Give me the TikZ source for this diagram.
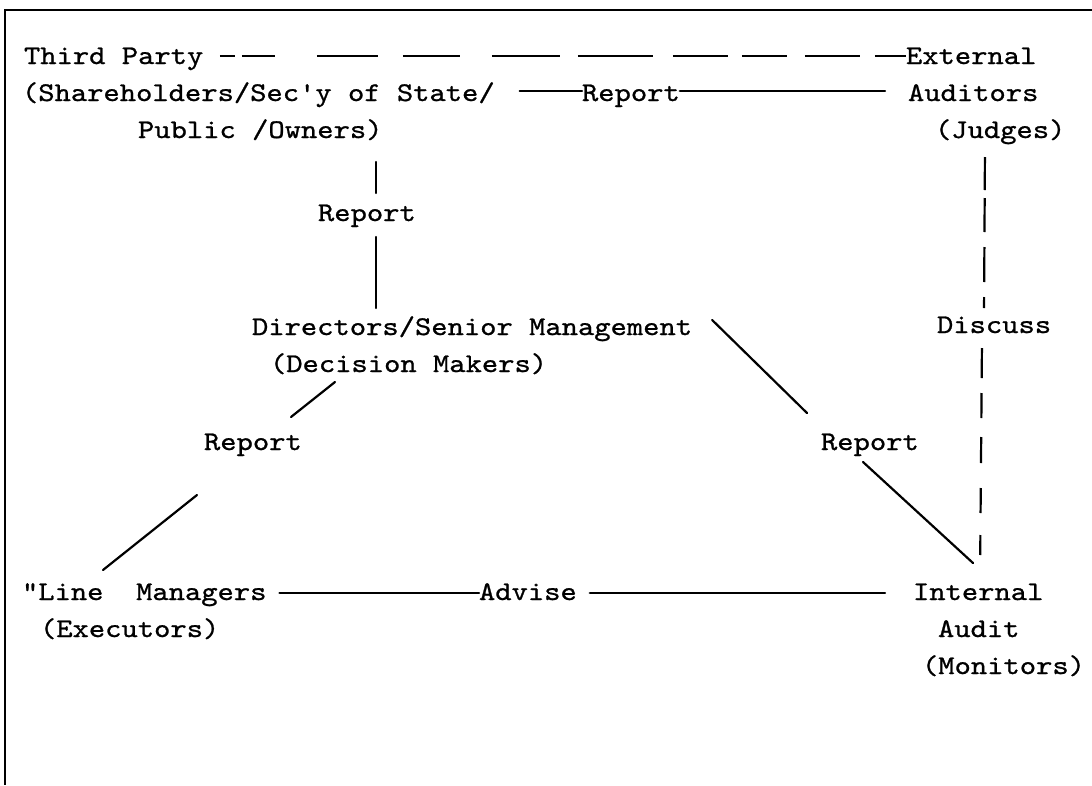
\documentclass[tikz,border=0pt]{standalone}
\usepackage{fontspec}
\usetikzlibrary{calc}
\newfontfamily\typewriter[FakeBold=0.9, FakeStretch=1.15]{lmmono10-regular.otf}

\tikzset{
  lbl/.style={anchor=base west, inner sep=0pt, outer sep=0pt,
    text height=18pt, text depth=6pt,
    font=\typewriter\fontsize{27}{37}\selectfont},
  link/.style={line width=2.2pt, line cap=round},
  frame/.style={line width=2pt},
}

\begin{document}
\begin{tikzpicture}[x=1pt, y=-1pt]
  \useasboundingbox (0,0) rectangle (1092,785);

  % page frame (top and left rules)
  \draw[frame] (1092,10) -- (5,10) -- (5,785);

  % top block
  \node[lbl] (tp)   at (24,64)   {Third Party};
  \node[lbl] (sh)   at (22,101)  {(Shareholders/Sec'y of State/};
  \node[lbl] (pub)  at (138,138) {Public /Owners)};
  \node[lbl] (ext)  at (906,64)  {External};
  \node[lbl] (aud)  at (908,101) {Auditors};
  \node[lbl] (jud)  at (935,138) {(Judges)};
  \node[lbl] (rep1) at (582,101) {Report};

  % middle block
  \node[lbl] (rep2) at (318,221) {Report};
  \node[lbl] (dir)  at (252,335) {Directors/Senior Management};
  \node[lbl] (dec)  at (270,372) {(Decision Makers)};
  \node[lbl] (dis)  at (937,333) {Discuss};
  \node[lbl] (rep3) at (204,450) {Report};
  \node[lbl] (rep4) at (821,450) {Report};

  % bottom block
  \node[lbl] (lm)   at (22,600)  {"Line\ \ Managers};
  \node[lbl] (exe)  at (40,637)  {(Executors)};
  \node[lbl] (adv)  at (479,600) {Advise};
  \node[lbl] (int)  at (913,600) {Internal};
  \node[lbl] (aud2) at (938,637) {Audit};
  \node[lbl] (mon)  at (922,674) {(Monitors)};

  % third party -- external auditors (broken rule)
  \draw[link, line cap=butt,
    dash pattern=on 0pt off 16.5pt on 15pt off 7pt on 33pt off 42pt on 61pt off 25pt
      on 57pt off 32pt on 68pt off 18pt on 75pt off 20pt on 55pt off 14pt
      on 45pt off 18pt on 55pt off 15pt on 40pt off 10pt]
    ([yshift=2]tp.east) -- ([yshift=2]ext.west);

  % report line between owners and auditors
  \draw[link, shorten <=25pt] ([yshift=4]sh.east) -- ([yshift=4]rep1.west);
  \draw[link, shorten >=23pt] ([yshift=4]rep1.east) -- ([yshift=4]aud.west);

  % owners -- directors
  \coordinate (lx) at (376,0);
  \draw[link, shorten <=18pt, shorten >=10pt] (pub.south -| lx) -- (rep2.north -| lx);
  \draw[link, shorten <=10pt, shorten >=9pt] (rep2.south -| lx) -- (dir.north -| lx);

  % external auditors -- internal audit (dashed)
  \coordinate (dxa) at (985,0);
  \coordinate (dxb) at (984,0);
  \coordinate (dxc) at (982,0);
  \coordinate (dxd) at (980,0);
  \draw[link, line cap=butt,
    dash pattern=on 33pt off 8pt on 34pt off 15pt on 35pt off 15pt on 11pt off 40pt,
    shorten <=13pt, shorten >=7pt]
    (jud.south -| dxa) -- (dis.north -| dxb);
  \draw[link, line cap=butt,
    dash pattern=on 30pt off 15pt on 25pt off 19pt on 26pt off 25pt on 25pt off 22pt on 20pt off 40pt,
    shorten <=9pt, shorten >=25pt]
    (dis.south -| dxc) -- (int.north -| dxd);

  % directors -- line managers
  \draw[link] ($(dec.south west)+(65,4)$) -- ($(rep3.north west)+(87,-15)$);
  \draw[link] ($(rep3.south west)+(-7,39)$) -- ($(lm.north west)+(81,-12)$);

  % directors -- internal audit
  \draw[link] ($(dir.east)+(20,-9)$) -- ($(rep4.north west)+(-14,-19)$);
  \draw[link] ($(rep4.south west)+(42,6)$) -- ($(int.north west)+(60,-19)$);

  % advise line
  \draw[link, shorten <=13pt] ([yshift=1]lm.east) -- ([yshift=1]adv.west);
  \draw[link, shorten <=13pt, shorten >=28pt] ([yshift=1]adv.east) -- ([yshift=1]int.west);
\end{tikzpicture}
\end{document}
